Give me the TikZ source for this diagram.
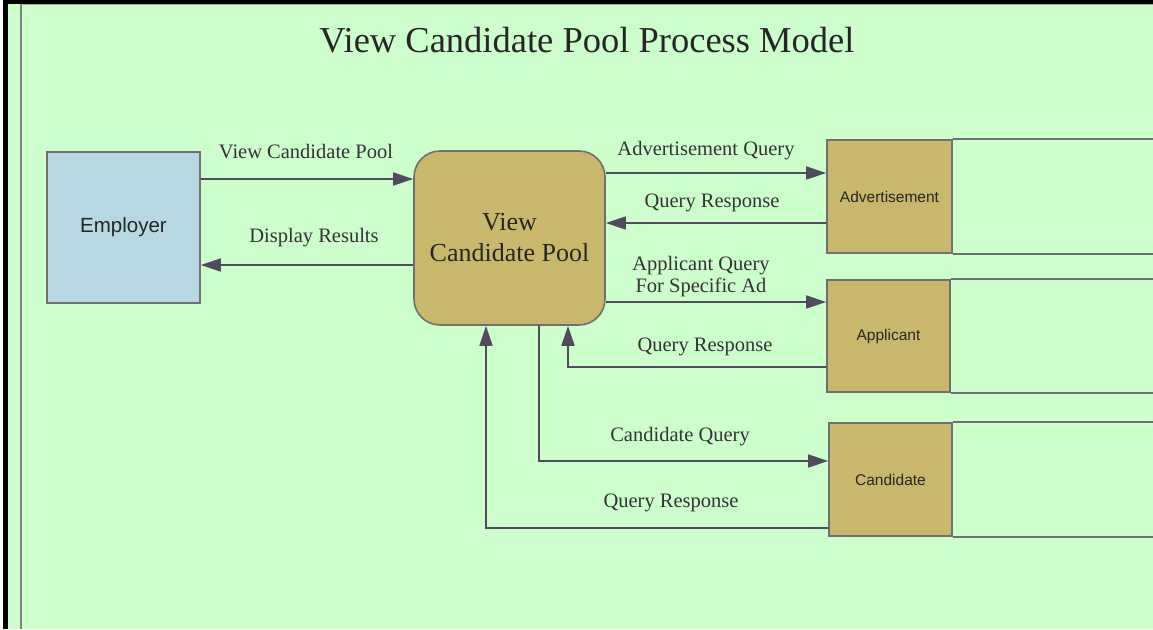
\documentclass[tikz,border=0pt]{standalone}
\usepackage{fontspec}
\setmainfont{Liberation Serif}
\setsansfont{Liberation Sans}
\usepackage{tikz}
\definecolor{bggreen}{RGB}{204, 255, 204}
\definecolor{emblue}{RGB}{182, 216, 226}
\definecolor{proctan}{RGB}{201, 183, 108}
\definecolor{flowgray}{RGB}{80, 76, 94}
\definecolor{edgegray}{RGB}{112, 112, 112}
\usetikzlibrary{arrows.meta, shapes}

\begin{document}
\begin{tikzpicture}[x=1pt, y=-1pt,
				>={Triangle[length=20pt, width=13pt]},   %Pfeilspitzen
				flow/.style={->, draw=flowgray, line width=1.6pt},
				lbl/.style={font=\fontsize{20.5}{22}\selectfont, text=black!80, align=center},
				ext/.style={draw=edgegray, fill=emblue, line width=1.6pt, minimum width=153pt, minimum height=151pt, inner sep=0pt, text=black!85, font=\sffamily\fontsize{20.5}{22}\selectfont},
				proc/.style={draw=edgegray, fill=proctan, line width=1.6pt, rounded corners=26pt, minimum width=191pt, minimum height=174pt, inner sep=0pt, align=center, text=black!85, font=\fontsize{26}{31}\selectfont},
				store/.style={draw=edgegray, fill=proctan, line width=1.6pt, minimum width=123pt, minimum height=112pt, inner sep=0pt, text=black!85, font=\sffamily\fontsize{15.5}{17}\selectfont}]
				%Hintergrund und Rahmen
				\useasboundingbox (0,0) rectangle (1153,629);
				\fill[bggreen] (0,0) rectangle (1153,629);
				\fill[white] (0,0) rectangle (3,629);
				\fill[black] (3,0) rectangle (1153,4);
				\fill[black] (3,0) rectangle (8,629);
				\draw[gray, line width=2pt] (21,4) -- (21,629);
				\draw[gray!70, line width=1pt] (21,4.5) -- (1153,4.5);
				% Titel
				\node[font=\fontsize{36.5}{40}\selectfont, text=black!85] (title) at (587,40) {View Candidate Pool Process Model};
				% Knoten
				\node[ext] (emp) at (123.5,227.5) {Employer};
				\node[proc] (vcp) at (509.5,238) {View\\Candidate Pool};
				\node[store, minimum width=125pt, minimum height=113pt] (adv) at (889.5,196.5) {Advertisement};
				\node[store] (app) at (888.5,336) {Applicant};
				\node[store, minimum height=113pt] (cand) at (890.5,479.5) {Candidate};
				% offene Speicher nach rechts
				\foreach \s in {adv,app,cand} {
					\draw[edgegray, line width=1.6pt] (\s.north east) -- (\s.north east -| 1160,0);
					\draw[edgegray, line width=1.6pt] (\s.south east) -- (\s.south east -| 1160,0);
				}
				% Datenfluesse
				\draw[flow] (emp.east |- 0,179) -- (vcp.west |- 0,179);
				\draw[flow] (vcp.west |- 0,265) -- (emp.east |- 0,265);
				\draw[flow] (vcp.east |- 0,173) -- (adv.west |- 0,173);
				\draw[flow] (adv.west |- 0,223) -- (vcp.east |- 0,223);
				\draw[flow] (vcp.east |- 0,302) -- (app.west |- 0,302);
				\draw[flow] (app.west |- 0,367) -- (568,367) -- (vcp.south -| 568,0);
				\draw[flow] (vcp.south -| 539,0) -- (539,461) -- (cand.west |- 0,461);
				\draw[flow] (cand.west |- 0,528) -- (486,528) -- (vcp.south -| 486,0);
				% Beschriftungen
				\node[lbl] (lview) at (306,152) {View Candidate Pool};
				\node[lbl] (ldisp) at (314,238) {Display Results};
				\node[lbl] (ladvq) at (706,151) {Advertisement Query};
				\node[lbl] (ladvr) at (712,203) {Query Response};
				\node[lbl] (lappq) at (701,277) {Applicant Query\\For Specific Ad};
				\node[lbl] (lappr) at (705,347) {Query Response};
				\node[lbl] (lcandq) at (680,437) {Candidate Query};
				\node[lbl] (lcandr) at (671,503) {Query Response};
			\end{tikzpicture}
\end{document}
